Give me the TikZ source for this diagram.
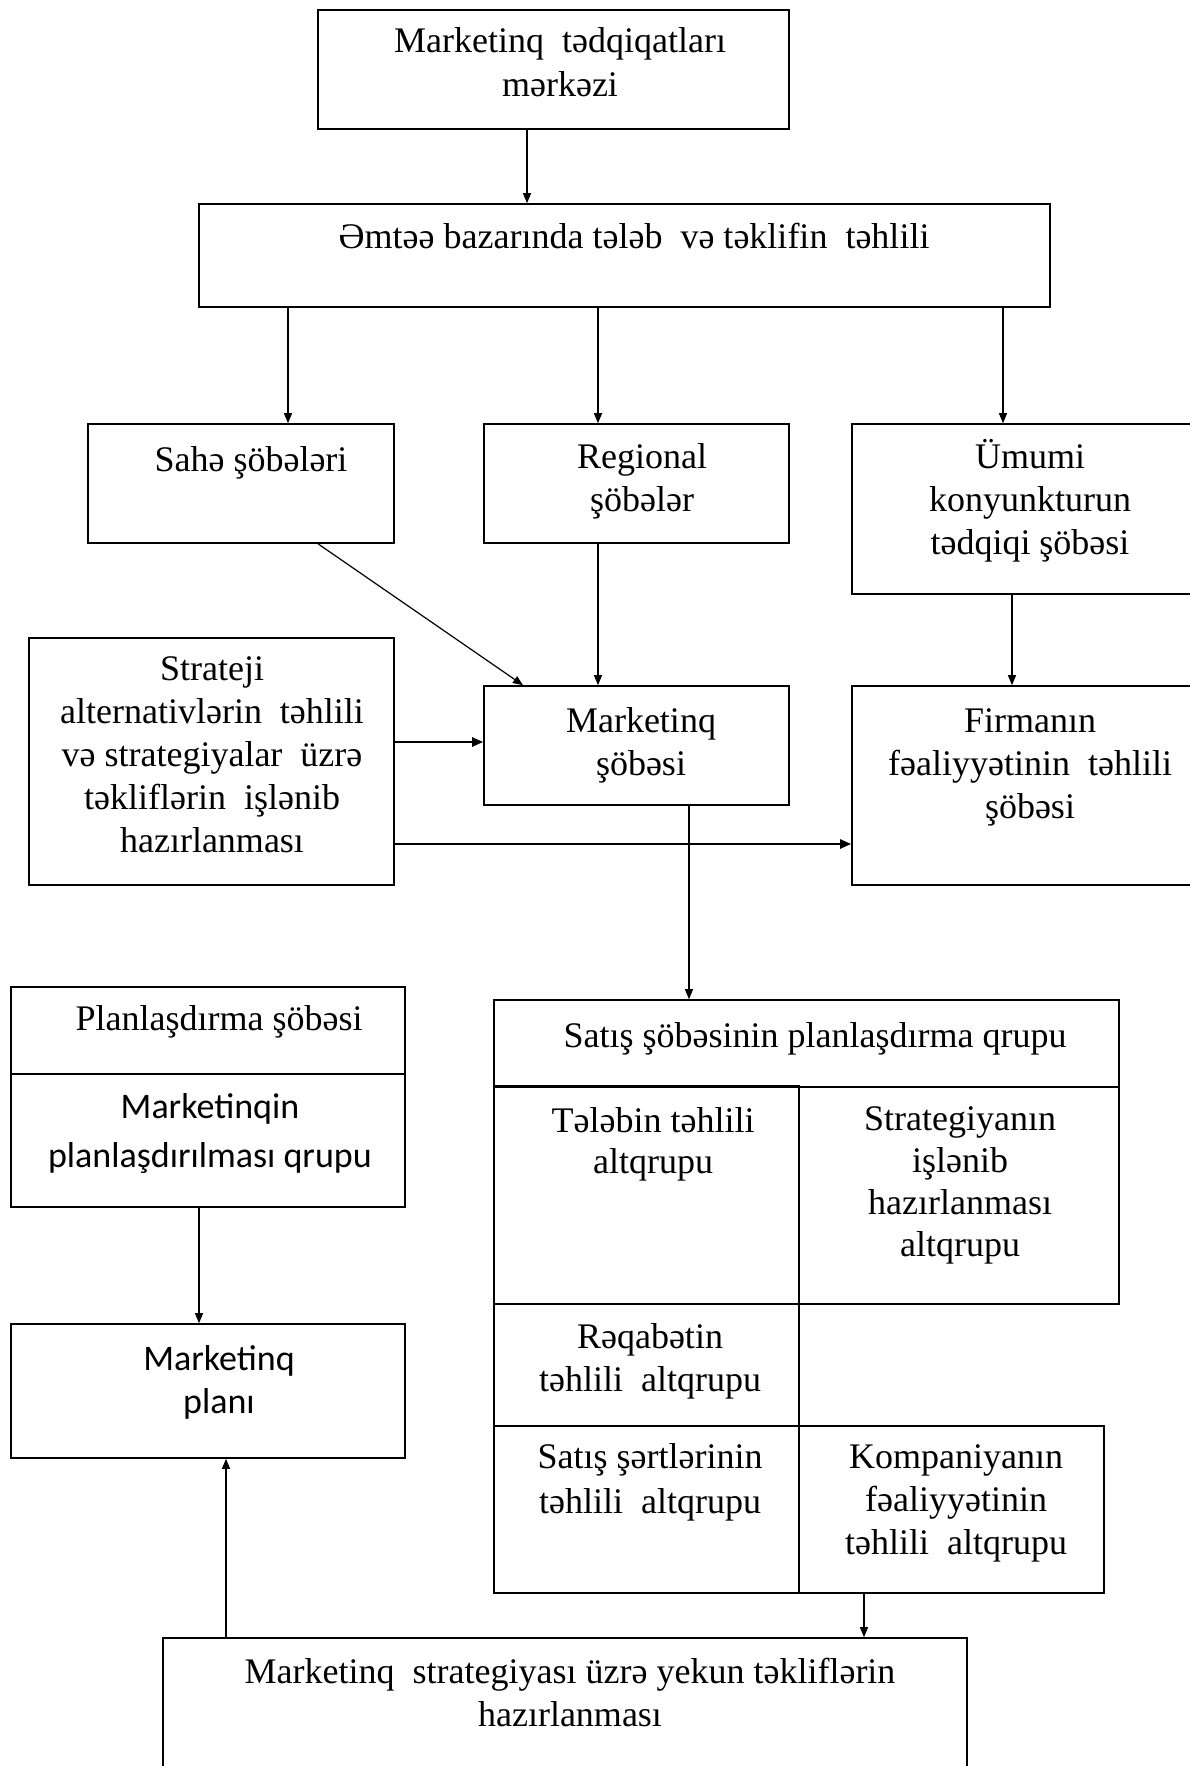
\documentclass[tikz,border=0pt]{standalone}
\usepackage{fontspec}
\setmainfont{Liberation Serif}
\newfontfamily\calibfont{Carlito}
\usetikzlibrary{arrows.meta,fit}
\begin{document}
\begin{tikzpicture}[x=0.5pt,y=-0.5pt,
  box/.style={draw, line width=0.8pt, inner sep=0pt},
  lbl/.style={align=center, inner sep=0pt, anchor=base, font=\fontsize{18}{21.5}\selectfont},
  clbl/.style={align=center, inner sep=0pt, anchor=base, font=\calibfont\fontsize{18}{24.5}\selectfont},
  conn/.style={-{Triangle[length=5pt,width=4pt]}, line width=0.6pt},
  thickconn/.style={-{Triangle[length=5.5pt,width=4.5pt]}, line width=1.2pt}]
\useasboundingbox (0,0) rectangle (1189,1766);

% ---- boxes ----
\node[box, fit={(318,10) (789,129)}] (centre) {};
\node[box, fit={(199,204) (1050,307)}] (market) {};
\node[box, fit={(88,424) (394,543)}] (sahe) {};
\node[box, fit={(484,424) (789,543)}] (region) {};
\node[box, fit={(852,424) (1200,594)}] (umumi) {};
\node[box, fit={(29,638) (394,885)}] (strat) {};
\node[box, fit={(484,686) (789,805)}] (mksh) {};
\node[box, fit={(852,686) (1200,885)}] (firma) {};
\node[box, fit={(11,987) (405,1074)}] (plan) {};
\node[box, fit={(11,1074) (405,1207)}] (plangrp) {};
\node[box, fit={(11,1324) (405,1458)}] (mplan) {};
\node[box, fit={(494,1000) (1119,1087)}] (satis) {};
\node[box, fit={(494,1087) (799,1304)}] (teleb) {};
\node[box, fit={(799,1087) (1119,1304)}] (stratgrp) {};
\node[box, fit={(494,1304) (799,1426)}] (reqabet) {};
\node[box, fit={(494,1426) (799,1593)}] (sert) {};
\node[box, fit={(799,1426) (1104,1593)}] (komp) {};
\node[box, fit={(163,1638) (967,1790)}] (final) {};
% heavier rule under the group header, left cell
\draw[line width=1.3pt] (teleb.north west) -- (teleb.north east);

% ---- texts (anchored at the baseline of their last line) ----
\node[lbl, font=\fontsize{18}{22}\selectfont] (centre-t) at (560,97) {Marketinq\ \ tədqiqatları\\mərkəzi};
\node[lbl] (market-t) at (634,248) {Əmtəə bazarında tələb\ \ və təklifin\ \ təhlili};
\node[lbl] (sahe-t) at (251,471) {Sahə şöbələri};
\node[lbl] (region-t) at (642,511) {Regional\\şöbələr};
\node[lbl] (umumi-t) at (1030,554) {Ümumi\\konyunkturun\\tədqiqi şöbəsi};
\node[lbl] (strat-t) at (212,852) {Strateji\\alternativlərin\ \ təhlili\\və strategiyalar\ \ üzrə\\təkliflərin\ \ işlənib\\hazırlanması};
\node[lbl] (mksh-t) at (641,775) {Marketinq\\şöbəsi};
\node[lbl] (firma-t) at (1030,818) {Firmanın\\fəaliyyətinin\ \ təhlili\\şöbəsi};
\node[lbl] (plan-t) at (219,1030) {Planlaşdırma şöbəsi};
\node[clbl] (plangrp-t) at (210,1167) {Marketinqin\\planlaşdırılması qrupu};
\node[clbl, font=\calibfont\fontsize{18}{21.5}\selectfont] (mplan-t) at (219,1413) {Marketinq\\planı};
\node[lbl] (satis-t) at (815,1047) {Satış şöbəsinin planlaşdırma qrupu};
\node[lbl, font=\fontsize{18}{20.5}\selectfont] (teleb-t) at (653,1173) {Tələbin təhlili\\altqrupu};
\node[lbl, font=\fontsize{18}{21}\selectfont] (stratgrp-t) at (960,1256) {Strategiyanın\\işlənib\\hazırlanması\\altqrupu};
\node[lbl] (reqabet-t) at (650,1391) {Rəqabətin\\təhlili\ \ altqrupu};
\node[lbl, font=\fontsize{18}{22.5}\selectfont] (sert-t) at (650,1513) {Satış şərtlərinin\\təhlili\ \ altqrupu};
\node[lbl] (komp-t) at (956,1554) {Kompaniyanın\\fəaliyyətinin\\təhlili\ \ altqrupu};
\node[lbl] (final-t) at (570,1726) {Marketinq\ \ strategiyası üzrə yekun təkliflərin\\hazırlanması};

% ---- connector columns ----
\coordinate (c1) at (527,0);
\coordinate (c2) at (288,0);
\coordinate (c3) at (598,0);
\coordinate (c4) at (1003,0);
\coordinate (c5) at (318,0);
\coordinate (c6) at (523,0);
\coordinate (c7) at (1012,0);
\coordinate (c8) at (689,0);
\coordinate (c9) at (199,0);
\coordinate (c10) at (226,0);
\coordinate (c11) at (864,0);
\coordinate (r1) at (0,742);
\coordinate (r2) at (0,844);

% ---- connectors ----
\draw[conn] (centre.south -| c1) -- (market.north -| c1);
\draw[conn] (market.south -| c2) -- (sahe.north -| c2);
\draw[conn] (market.south -| c3) -- (region.north -| c3);
\draw[conn] (market.south -| c4) -- (umumi.north -| c4);
\draw[conn] (sahe.south -| c5) -- (mksh.north -| c6);
\draw[conn] (region.south -| c3) -- (mksh.north -| c3);
\draw[conn] (umumi.south -| c7) -- (firma.north -| c7);
\draw[thickconn] (strat.east |- r1) -- (mksh.west |- r1);
\draw[thickconn] (strat.east |- r2) -- (firma.west |- r2);
\draw[conn] (mksh.south -| c8) -- (satis.north -| c8);
\draw[conn] (plangrp.south -| c9) -- (mplan.north -| c9);
\draw[conn] (final.north -| c10) -- (mplan.south -| c10);
\draw[conn] (komp.south -| c11) -- (final.north -| c11);
\end{tikzpicture}
\end{document}
